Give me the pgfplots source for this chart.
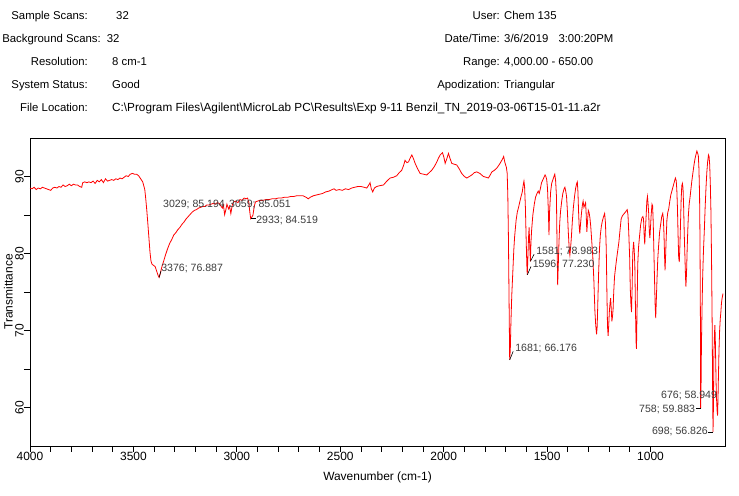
\documentclass[border=0pt]{standalone}
\usepackage{fontspec}
\setmainfont{Liberation Sans}
\usepackage{pgfplots}
\pgfplotsset{compat=1.18}
\definecolor{annot}{RGB}{60,60,60}

\begin{document}
\begin{tikzpicture}[x=1bp,y=1bp]
% ---------- header ----------
\begin{scope}[every node/.style={inner sep=0pt, font=\fontsize{11.4}{13}\selectfont}]
\node[anchor=base east] at (88,476.3) {Sample Scans:};
\node[anchor=base west] at (116,476.3) {32};
\node[anchor=base east] at (101,453.3) {Background Scans:};
\node[anchor=base west] at (106.7,453.3) {32};
\node[anchor=base east] at (88,430.3) {Resolution:};
\node[anchor=base west] at (112,430.3) {8 cm-1};
\node[anchor=base east] at (88,407.3) {System Status:};
\node[anchor=base west] at (112,407.3) {Good};
\node[anchor=base east] at (88,384.3) {File Location:};
\node[anchor=base west, font=\fontsize{11.8}{13}\selectfont] at (112,384.3) {C:\textbackslash Program Files\textbackslash Agilent\textbackslash MicroLab PC\textbackslash Results\textbackslash Exp 9-11 Benzil\_TN\_2019-03-06T15-01-11.a2r};
\node[anchor=base east] at (500,476.3) {User:};
\node[anchor=base west] at (504,476.3) {Chem 135};
\node[anchor=base east] at (500,453.3) {Date/Time:};
\node[anchor=base west] at (504,453.3) {3/6/2019};
\node[anchor=base west] at (558.3,453.3) {3:00:20PM};
\node[anchor=base east] at (500,430.3) {Range:};
\node[anchor=base west] at (504,430.3) {4,000.00 - 650.00};
\node[anchor=base east] at (500,407.3) {Apodization:};
\node[anchor=base west] at (504,407.3) {Triangular};
\end{scope}

\begin{axis}[
 at={(30bp,50bp)}, anchor=south west,
 width=695bp, height=308bp, scale only axis,
 xmin=640, xmax=4000, ymin=55, ymax=95,
 x dir=reverse,
 xtick={1000,1500,...,4000},
 minor x tick num=4,
 ytick={60,70,80,90},
 minor y tick num=1,
 tick align=outside,
 tick pos=left,
 major tick length=6bp, minor tick length=6bp,
 every tick/.style={black, line width=0.8bp},
 axis line style={line width=0.8bp},
 /pgf/number format/assume math mode=true,
 /pgf/number format/set thousands separator={},
 tick label style={font=\fontsize{12}{14}\selectfont},
 yticklabel style={rotate=90, anchor=south, inner sep=0pt},
 xticklabel style={anchor=north, inner sep=0pt},
 xlabel={Wavenumber (cm-1)},
 ylabel={Transmittance},
 label style={font=\fontsize{12}{14}\selectfont},
 xlabel style={at={([yshift=-31bp]axis description cs:0.5,0)}, anchor=center},
 ylabel style={at={([xshift=-21.7bp]axis description cs:0,0.5)}, anchor=center},
]
\addplot[red, line width=0.8bp, mark=none] table {
4000 88.5
3990 88.4
3980 88.6
3970 88.3
3960 88.5
3950 88.4
3940 88.6
3930 88.5
3920 88.4
3910 88.3
3900 88.2
3890 88.5
3880 88.6
3870 88.5
3860 88.7
3850 88.6
3840 88.9
3830 88.7
3820 88.8
3810 89.0
3800 88.8
3790 89.0
3780 88.9
3770 88.9
3760 88.7
3750 88.6
3745 89.2
3735 89.3
3725 89.2
3715 89.3
3705 89.2
3695 89.4
3685 89.1
3675 89.5
3665 89.3
3655 89.6
3645 89.2
3635 89.7
3625 89.4
3615 89.5
3605 89.6
3595 89.5
3585 89.7
3575 89.6
3565 89.8
3555 89.7
3545 89.9
3535 90.1
3525 90.0
3515 90.3
3505 90.4
3495 90.3
3485 90.3
3475 90.1
3465 89.7
3455 89.3
3445 88.3
3440 87.0
3435 85.5
3430 83.8
3425 82.0
3420 80.2
3415 79.0
3410 78.6
3400 78.4
3395 78.3
3390 77.9
3385 77.5
3380 77.1
3376 76.887
3370 77.4
3365 78.0
3360 78.5
3355 78.9
3345 79.8
3335 80.6
3325 81.3
3315 81.8
3305 82.4
3295 82.7
3285 83.1
3275 83.4
3265 83.8
3255 84.1
3245 84.5
3235 84.8
3225 85.1
3215 85.4
3205 85.6
3195 85.7
3185 85.9
3175 86.0
3165 86.1
3155 86.1
3145 86.3
3135 86.3
3125 86.4
3115 86.5
3105 86.4
3095 86.6
3085 86.5
3078 86.2
3070 85.9
3065 86.3
3059 85.051
3053 85.7
3048 86.4
3040 85.8
3035 86.1
3029 85.194
3022 86.3
3015 86.7
3005 86.8
2995 86.6
2985 87.0
2975 86.9
2965 87.2
2955 87.1
2948 87.2
2942 86.6
2937 85.3
2933 84.519
2928 84.7
2922 85.0
2916 86.1
2910 86.7
2900 86.8
2890 86.9
2875 86.9
2860 87.0
2845 87.0
2830 87.1
2815 87.1
2800 87.2
2785 87.2
2770 87.3
2755 87.3
2740 87.4
2725 87.4
2710 87.5
2695 87.5
2680 87.5
2665 87.3
2655 87.1
2645 87.3
2630 87.5
2615 87.6
2600 87.7
2585 87.8
2570 88.0
2555 88.1
2540 88.3
2530 88.4
2520 88.2
2505 88.3
2490 88.2
2475 88.4
2460 88.3
2445 88.5
2430 88.6
2415 88.7
2400 88.7
2385 88.6
2372 88.5
2362 88.9
2356 89.2
2350 88.4
2343 88.0
2335 88.5
2324 88.7
2310 88.8
2291 88.9
2275 89.4
2259 89.8
2243 89.9
2227 90.1
2215 90.5
2203 90.8
2193 91.5
2187 92.1
2178 91.8
2170 91.9
2162 92.4
2154 92.8
2146 92.3
2138 91.7
2126 91.0
2114 90.4
2098 90.3
2082 90.2
2070 90.5
2058 90.8
2045 91.3
2033 91.9
2025 92.4
2017 92.8
2006 93.1
1999 92.5
1993 91.7
1985 92.3
1977 93.0
1970 92.4
1961 91.7
1950 91.6
1937 91.5
1925 91.0
1913 90.4
1900 90.0
1888 89.8
1876 90.0
1864 90.2
1852 90.5
1840 90.6
1825 90.4
1808 90.0
1795 89.9
1784 89.8
1775 90.2
1767 90.6
1755 90.8
1743 91.1
1730 91.6
1717 92.2
1710 92.6
1704 91.8
1697 91.2
1693 90.4
1690 87.5
1687 82.0
1684 74.0
1681 66.176
1678 67.5
1675 71.0
1671 74.5
1666 77.5
1661 80.5
1657 82.2
1650 84.3
1644 85.4
1638 86.0
1633 86.6
1626 87.4
1620 88.0
1615 89.0
1612 89.4
1609 88.7
1605 86.0
1601 81.5
1598 78.5
1596 77.23
1593 79.5
1590 82.0
1587 83.4
1584 81.0
1581 78.983
1578 81.5
1575 83.0
1569 85.0
1562 86.4
1556 87.3
1549 87.8
1543 88.1
1538 87.8
1532 88.5
1527 89.2
1520 89.6
1515 89.9
1510 90.2
1506 90.0
1502 89.6
1498 88.4
1494 85.5
1491 82.4
1488 85.5
1483 88.0
1478 89.1
1472 89.6
1467 90.0
1463 90.3
1459 89.5
1455 87.5
1452 81.0
1449 75.9
1446 78.5
1443 81.2
1439 84.0
1435 85.5
1429 86.9
1424 87.8
1418 88.4
1414 88.6
1410 88.1
1406 87.4
1402 85.5
1398 83.0
1393 80.5
1390 79.8
1387 80.6
1383 82.0
1378 84.2
1373 86.0
1367 87.5
1362 88.5
1357 89.1
1354 89.3
1351 88.0
1348 85.5
1345 83.5
1342 82.6
1338 84.0
1334 85.2
1329 86.4
1326 86.8
1322 86.0
1318 86.3
1314 86.6
1311 85.0
1308 82.8
1305 84.0
1301 85.6
1297 85.3
1293 84.6
1289 83.5
1284 81.5
1279 79.5
1274 76.5
1269 72.5
1265 70.7
1261 69.5
1258 70.5
1255 73.5
1251 77.5
1247 80.5
1243 82.3
1238 83.5
1233 84.2
1227 84.8
1222 85.2
1218 84.0
1214 80.5
1211 75.0
1208 70.5
1205 69.3
1202 70.8
1199 72.5
1196 73.5
1193 74.2
1190 72.8
1187 71.2
1184 71.8
1181 72.8
1178 75.0
1174 77.0
1169 78.2
1164 79.3
1158 80.5
1153 81.5
1147 83.2
1142 84.5
1136 84.9
1130 85.1
1124 85.3
1118 85.5
1113 85.7
1109 85.0
1105 82.5
1101 79.5
1098 75.5
1095 73.5
1092 72.4
1089 75.5
1086 80.0
1082 81.5
1079 80.5
1076 78.5
1073 73.0
1070 68.5
1068 67.6
1065 73.0
1062 78.5
1058 80.8
1054 82.0
1048 83.7
1042 84.6
1037 84.8
1034 84.5
1031 82.5
1028 81.2
1025 83.0
1021 85.0
1018 86.8
1015 87.4
1012 86.5
1009 85.2
1006 82.8
1003 82.0
1000 83.5
997 85.0
993 86.4
990 86.2
987 84.0
984 80.5
981 77.0
978 73.5
975 71.6
972 74.0
969 76.5
965 79.3
961 81.0
956 82.8
951 83.8
946 84.8
941 85.2
938 84.5
935 82.5
932 79.5
930 77.8
928 79.0
925 81.5
921 84.3
917 85.3
912 85.8
907 86.8
902 87.6
896 88.2
890 88.8
885 89.3
880 89.8
876 89.5
873 88.3
870 86.0
867 82.5
864 79.5
861 78.9
858 81.0
855 84.0
852 87.0
849 88.8
846 89.1
843 88.5
840 86.0
837 82.5
834 79.8
831 77.0
829 75.7
826 77.5
823 80.5
820 83.0
817 85.0
813 86.5
809 87.3
805 88.3
800 89.5
795 90.5
790 91.5
785 92.3
780 92.9
776 93.3
772 93.0
769 92.7
766 91.0
763 87.6
761 82.0
759 72.0
758 59.883
756 62.0
754 68.0
751 73.0
748 77.0
744 80.5
740 83.0
736 86.0
732 88.5
728 90.5
724 91.9
720 92.8
717 92.6
714 91.5
711 89.0
708 85.4
705 79.0
702 70.5
700 63.0
698 56.826
696 60.0
694 66.4
691 69.5
689 70.7
687 69.0
685 66.0
683 63.0
680 60.5
678 59.5
676 58.949
674 61.0
672 63.8
669 67.5
666 70.0
663 71.5
660 72.4
657 73.6
654 74.2
651 74.6
650 74.8
};
% leader lines
\draw[black, line width=0.6bp] (axis cs:3376,76.887) -- (axis cs:3367,77.7);
\draw[black, line width=0.6bp] (axis cs:2933,84.519) -- (axis cs:2908,84.519);
\draw[black, line width=0.6bp] (axis cs:1681,66.176) -- (axis cs:1664,67.3);
\draw[black, line width=0.6bp] (axis cs:1596,77.23) -- (axis cs:1578,78.3);
\draw[black, line width=0.6bp] (axis cs:1581,78.983) -- (axis cs:1563,79.9);
\draw[black, line width=0.6bp] (axis cs:758,59.883) -- (axis cs:782,59.883);
\draw[black, line width=0.6bp] (axis cs:698,56.826) -- (axis cs:720,56.826);
% peak labels
\begin{scope}[every node/.style={inner sep=0pt, text=annot, font=\fontsize{10.6}{12}\selectfont}]
\node[anchor=west] at (axis cs:3366,78.1) {3376; 76.887};
\node[anchor=west] at (axis cs:3357,86.4) {3029; 85.194};
\node[anchor=west] at (axis cs:3038,86.4) {3059; 85.051};
\node[anchor=west] at (axis cs:2907,84.35) {2933; 84.519};
\node[anchor=west] at (axis cs:1553,80.2) {1581; 78.983};
\node[anchor=west] at (axis cs:1570,78.6) {1596; 77.230};
\node[anchor=west] at (axis cs:1655,67.6) {1681; 66.176};
\node[anchor=east] at (axis cs:678,61.5) {676; 58.949};
\node[anchor=east] at (axis cs:784,59.8) {758; 59.883};
\node[anchor=east] at (axis cs:722,56.9) {698; 56.826};
\end{scope}
\end{axis}
\pgfresetboundingbox
\useasboundingbox (0,0) rectangle (739,496);
\end{tikzpicture}
\end{document}
